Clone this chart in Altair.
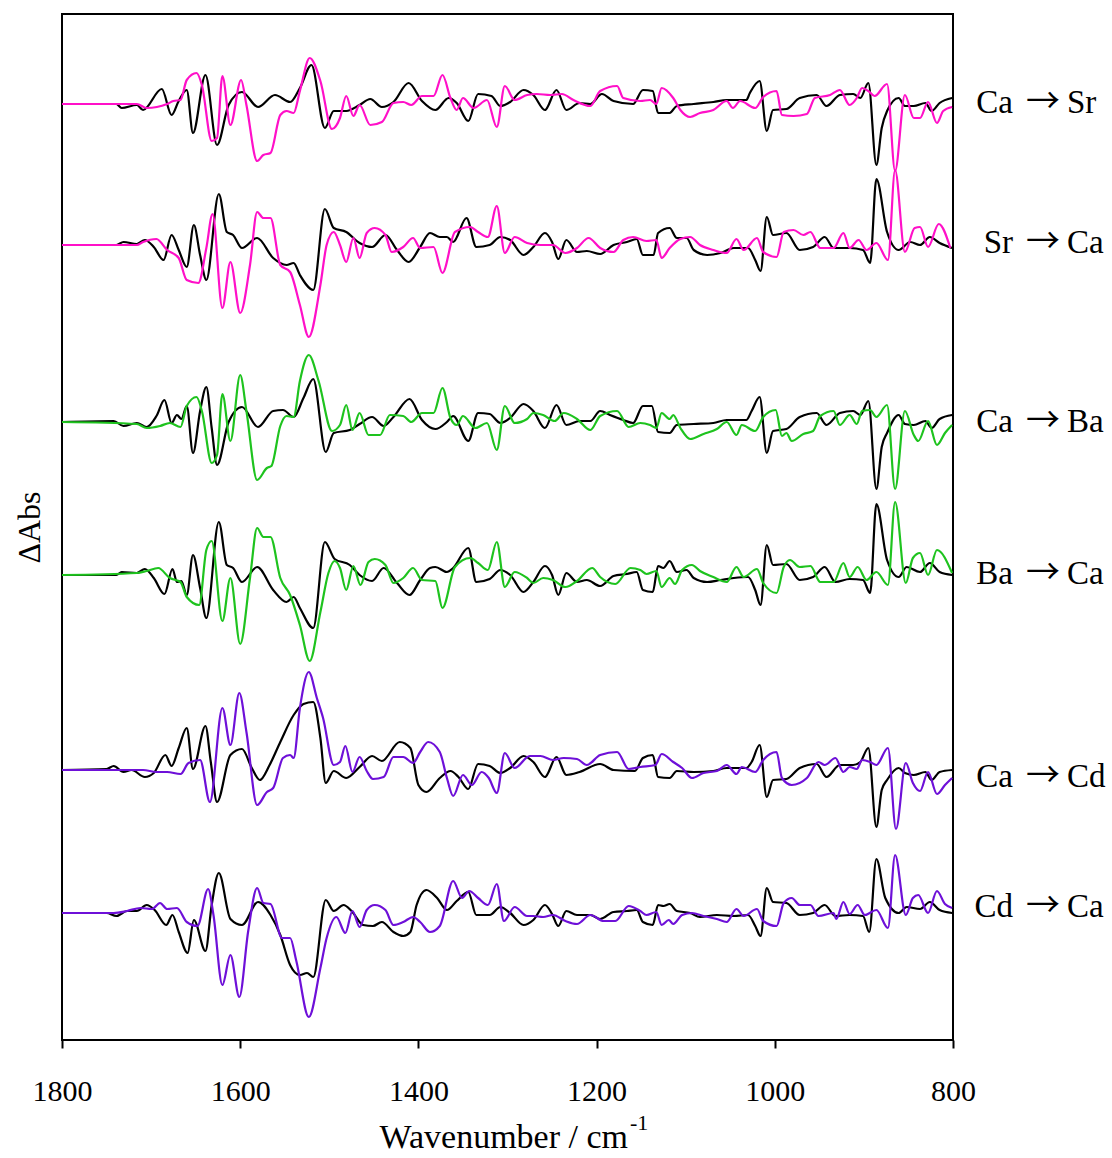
import altair as alt
import pandas as pd

# ---------------- data (wavenumber / cm-1, relative ΔAbs in arbitrary units) ----------------
# Pair 1: Ca -> Sr
WN_K1 = [1800,1739,1733,1716,1709,1688,1677,1669,1660,1653,1639,1626,1613,1598,1580,1561,1544,1533,1520,1505,
         1495,1481,1466,1454,1441,1428,1411,1396,1381,1366,1357,1344,1333,1318,
         1308,1297,1282,1271,1258,1245,1234,1219,1207,1194,1181,1159,1148,1137,1131,1118,1110,1091,1069,1054,
         1032,1028,1017,1009,1002,987,972,953,942,927,912,904,895,886,880,874,861,854,844,831,824,815,801]
DA_K1 = [0,0,-4,-1,-6,15,-11,3,14,-29,29,-41,-1,12,-3,9,2,16,39,-24,
         -7,-7,-1,5,-3,2,21,3,-6,6,1,-17,10,8,
         -2,2,14,9,-6,14,-6,1,0,10,3,0,14,13,-9,-9,-2,0,2,4,
         4,11,23,-27,-6,-5,6,9,-2,9,10,6,21,-61,-24,-7,6,-2,-2,1,-7,1,6]
WN_C1 = [1800,1716,1705,1682,1675,1667,1660,1649,1643,1632,1626,1620,1611,1599,1593,1581,1574,1566,1555,1548,
         1540,1533,1522,1510,1497,1488,1481,1473,1466,1454,1441,1428,1417,1408,1396,1383,1373,1364,1357,1350,
         1338,1323,1312,
         1303,1292,1278,1267,1252,1239,1226,1207,1196,1177,1170,1151,1140,1133,1127,1114,1106,1095,1084,1069,
         1054,1047,1039,1022,1013,998,992,979,964,955,938,927,916,908,902,895,888,874,865,854,
         844,837,828,818,811,801]
DA_C1 = [0,0,-4,0,3,4,24,31,19,-37,-34,28,-21,24,-1,-57,-51,-49,-11,-7,
         -9,13,46,23,-25,-14,8,-12,-1,-21,-18,1,2,-1,8,8,29,6,-6,6,
         -4,4,-23,
         18,4,9,10,9,10,4,-2,13,18,6,3,4,0,16,6,-6,-13,-9,-6,
         3,-4,3,-4,7,13,-11,-12,-10,6,9,14,-1,6,16,13,8,20,-67,9,
         -14,-14,2,-19,-7,-3]

# Pair 2: Sr -> Ca
WN_K2 = [1800,1739,1731,1716,1707,1697,1686,1677,1669,1660,1652,1645,1638,1624,1615,1608,1598,1581,1563,1548,
         1540,1533,1518,1505,1495,1481,1466,1452,1437,1424,1411,1398,1387,1376,1368,1361,1346,1335,1320,
         1308,1297,1282,1271,1258,1250,1243,1234,1222,1211,1196,1181,1166,1155,1148,1136,1131,1118,1110,1099,
         1091,1076,1061,1046,1030,1022,1016,1009,1002,987,972,957,944,934,916,901,893,886,874,861,
         848,837,826,815,801]
DA_K2 = [0,0,3,1,5,-2,-15,10,-5,-22,20,-10,-35,51,13,10,-3,7,-13,-20,
         -18,-30,-45,36,17,13,2,-2,10,-5,-17,-2,12,8,8,3,27,-2,0,
         8,5,-10,-2,12,3,-14,5,-7,-6,-9,0,3,6,-10,-10,12,17,7,7,
         -5,-10,-8,-3,-3,-15,-26,28,10,12,-5,-2,8,-3,-3,-5,-18,66,13,-5,
         3,0,8,2,-3]
WN_C2 = [1800,1716,1709,1694,1682,1669,1660,1647,1638,1631,1620,1611,1600,1589,1581,1574,1566,1555,1544,1533,
         1523,1510,1503,1495,1488,1481,1473,1466,1458,1449,1437,1430,1417,1406,1398,1383,1373,1359,1342,1333,
         1322,1312,
         1303,1292,1278,1263,1249,1235,1222,1209,1196,1181,1170,1159,1144,1133,1127,1118,1106,1095,1084,1069,
         1054,1043,1035,1020,1013,998,990,979,968,960,949,934,923,916,906,897,886,873,865,854,
         843,837,828,816,803]
DA_C2 = [0,0,3,6,-5,-13,-35,-38,-3,31,-63,-17,-68,-20,33,27,27,-20,-27,-60,
         -92,-40,0,13,0,-17,7,-13,12,17,10,-7,-2,7,-3,-2,-28,13,18,13,
         8,39,
         -8,8,2,0,0,-8,-3,7,-3,-7,5,8,4,5,-13,-3,6,8,0,-5,
         -8,6,-5,7,-7,-12,13,15,10,13,-3,-3,12,-3,5,-5,2,-15,75,-7,
         17,18,-2,21,-3]

# Pair 3: Ca -> Ba
WN_K3 = [1800,1742,1731,1716,1705,1694,1685,1677,1671,1666,1660,1653,1645,1638,1632,1626,1613,1598,1580,1563,
         1552,1540,1529,1518,1504,1495,1477,1466,1452,1439,1428,1410,1396,1381,1368,1361,1344,1333,1320,
         1308,1297,1282,1271,1258,1245,1234,1219,1207,1196,1185,1170,1159,1148,1138,1131,1118,1110,1091,1069,
         1054,1032,1026,1017,1009,1002,987,972,953,942,927,912,904,895,886,880,874,861,854,844,
         831,824,815,801]
DA_K3 = [0,1,-4,-1,-5,6,22,-1,7,3,16,-31,11,35,-6,-43,0,15,-5,11,
         12,5,24,43,-30,-11,-8,-2,5,-4,5,23,2,-7,0,6,-19,9,8,
         -1,4,18,11,-6,17,-3,1,1,11,7,2,-1,16,16,-10,-11,-3,-2,-1,
         2,2,11,25,-31,-9,-7,5,9,-3,9,11,7,21,-67,-25,-11,7,-2,-3,
         1,-6,3,7]
WN_C3 = [1800,1716,1705,1690,1679,1667,1660,1649,1643,1632,1626,1620,1611,1600,1593,1581,1570,1565,1555,1548,
         1540,1533,1523,1512,1497,1488,1481,1474,1466,1456,1443,1432,1417,1408,1396,1383,1373,1364,1357,1350,
         1336,1323,1312,
         1303,1292,1278,1271,1260,1247,1237,1222,1207,1196,1177,1164,1151,1140,1133,1127,1118,1114,1106,1095,
         1080,1065,1054,1043,1037,1022,1013,999,992,987,981,968,957,949,934,927,916,908,902,893,
         886,874,865,854,844,839,828,818,809,801]
DA_C3 = [0,-2,-6,-4,-1,-5,16,25,11,-41,-33,28,-19,47,11,-58,-46,-44,-4,6,
         5,41,67,41,-9,-3,17,-8,9,-13,-13,7,6,0,9,9,34,4,-3,6,
         -6,-1,-28,
         16,-1,3,9,7,1,9,3,-8,6,11,-5,-1,-3,-6,9,3,7,-6,-17,
         -12,-7,0,-13,-3,-9,5,12,-14,-11,-19,-12,-9,6,11,-3,7,-2,11,12,
         5,17,-67,11,-13,-19,1,-23,-11,-3]

# Pair 4: Ba -> Ca
WN_K4 = [1800,1739,1733,1716,1707,1697,1685,1676,1671,1666,1660,1653,1645,1638,1624,1615,1608,1598,1581,1563,
         1548,1540,1533,1518,1505,1494,1477,1466,1452,1439,1424,1410,1398,1387,1381,1368,1361,1344,1335,1320,
         1308,1297,1282,1271,1258,1250,1243,1234,1222,1211,1196,1181,1166,1155,1148,1137,1131,1125,1118,1110,
         1099,1091,1076,1061,1046,1030,1022,1016,1009,1002,987,972,957,944,932,916,901,893,886,874,
         861,852,837,826,815,801]
DA_K4 = [0,0,3,2,6,-3,-19,6,-7,-6,-20,20,-13,-43,53,10,7,-7,8,-15,
         -27,-22,-33,-53,33,16,10,0,-6,7,-8,-20,-5,7,8,3,7,27,-7,-4,
         5,0,-17,-7,9,0,-20,2,-7,-5,-11,-1,1,3,-15,-17,9,7,14,3,
         5,-3,-7,-5,-3,-2,-15,-30,30,10,11,-5,-2,8,-7,-4,-5,-18,71,15,
         -2,8,3,12,3,0]
WN_C4 = [1800,1716,1705,1692,1679,1667,1660,1646,1638,1632,1620,1611,1600,1589,1581,1574,1566,1555,1544,1533,
         1522,1510,1501,1494,1488,1481,1473,1465,1456,1449,1437,1428,1417,1406,1396,1381,1373,1359,1342,1333,
         1322,1312,
         1303,1292,1278,1271,1260,1249,1235,1222,1205,1196,1179,1162,1151,1144,1133,1127,1118,1112,1104,1093,
         1084,1069,1054,1043,1035,1020,1013,998,990,983,972,960,949,934,923,916,907,897,886,873,
         865,853,845,837,828,818,801]
DA_C4 = [0,2,4,7,-3,-7,-22,-30,25,34,-46,-3,-69,-3,47,38,38,-3,-20,-50,
         -86,-37,2,14,7,-15,9,-10,13,16,10,-8,-3,7,-5,-6,-33,8,17,12,
         5,33,
         -12,3,-3,-8,-3,-5,-12,-6,7,-2,-9,7,5,1,4,-12,-3,-9,5,10,
         4,-2,-7,8,-2,6,-8,-18,8,15,8,9,-7,-7,12,-2,8,-5,3,-10,
         73,-8,17,22,0,25,2]

# Pair 5: Ca -> Cd
WN_K5 = [1800,1750,1742,1731,1722,1707,1697,1684,1677,1669,1660,1653,1639,1633,1626,1611,1598,1587,1578,1567,
         1555,1540,1529,1518,1510,1504,1495,1481,1466,1452,1441,1421,1409,1400,1391,1376,1364,1355,1344,1333,
         1320,
         1308,1297,1282,1271,1258,1245,1234,1219,1196,1181,1157,1148,1137,1131,1118,1110,1091,1069,1054,1032,
         1026,1017,1009,1002,987,972,953,942,927,912,904,895,886,880,874,861,854,844,831,824,
         815,801]
DA_K5 = [0,1,4,-2,0,-7,-3,15,4,22,42,1,44,8,-32,15,21,2,-10,5,
         28,55,66,68,32,-13,-1,-8,3,14,9,28,22,-15,-22,-8,-1,-7,-19,6,
         4,
         -3,2,14,8,-7,13,-5,-2,6,0,-1,12,15,-7,-8,-1,-2,-1,2,2,
         8,25,-27,-10,-9,2,6,-7,5,5,8,22,-57,-20,-10,2,-3,-5,-2,-10,
         -2,0]
WN_C5 = [1800,1709,1694,1682,1667,1658,1645,1634,1620,1611,1601,1593,1581,1570,1563,1552,1544,1540,1533,1523,
         1514,1507,1495,1488,1482,1474,1466,1458,1451,1439,1428,1417,1406,1398,1389,1376,1368,1361,1350,1340,
         1329,1321,1312,
         1303,1292,1275,1263,1249,1237,1222,1211,1196,1177,1164,1151,1134,1127,1114,1104,1093,1080,1065,1054,
         1043,1037,1022,1013,998,992,981,964,951,944,932,923,916,908,902,893,886,873,864,853,
         845,837,828,818,809,801]
DA_C5 = [0,0,-2,-2,-4,7,10,-32,62,25,77,38,-35,-22,-18,12,15,12,62,98,
         72,52,5,8,24,-2,13,-1,-9,-7,13,13,7,18,28,18,-8,-26,-5,-15,
         -2,-8,-23,
         17,2,14,14,10,12,11,5,15,18,1,3,5,16,8,2,-8,-3,-1,5,
         -4,3,-2,10,18,-8,-15,-8,8,5,12,-2,3,1,10,8,5,22,-59,7,
         -13,-21,-2,-24,-15,-8]

# Pair 6: Cd -> Ca
WN_K6 = [1800,1750,1739,1727,1716,1705,1696,1683,1676,1669,1659,1652,1639,1632,1624,1611,1598,1580,1566,1555,
         1544,1533,1525,1518,1504,1495,1484,1475,1462,1451,1441,1428,1417,1409,1402,1391,1379,1368,1357,1344,
         1335,1320,
         1308,1297,1282,1271,1258,1250,1243,1234,1222,1207,1196,1181,1166,1155,1148,1137,1131,1125,1118,1110,
         1095,1084,1065,1046,1030,1022,1016,1009,1002,987,972,957,944,932,916,901,894,886,876,861,
         852,837,826,815,801]
DA_K6 = [0,0,-3,2,2,8,3,-12,-2,-19,-40,-7,-38,8,40,-6,-12,11,-2,-22,
         -52,-62,-60,-64,13,2,8,2,-12,-13,-9,-19,-23,-19,8,23,15,3,12,21,
         -2,-2,
         6,0,-12,-7,8,-1,-13,2,-2,-2,-6,1,2,3,-9,-12,8,7,9,2,
         0,-4,-2,-3,-2,-13,-23,25,11,10,-2,0,8,-3,-2,-3,-19,54,15,0,
         6,4,11,3,0]
WN_C6 = [1800,1742,1727,1712,1699,1690,1682,1671,1660,1648,1636,1630,1620,1611,1601,1591,1581,1574,1566,1553,
         1544,1537,1523,1510,1503,1492,1482,1474,1466,1458,1449,1437,1428,1417,1406,1398,1387,1376,1361,1351,
         1343,1333,1322,1312,
         1304,1292,1278,1271,1260,1249,1235,1222,1207,1192,1179,1164,1151,1144,1133,1127,1119,1114,1104,1093,
         1080,1065,1054,1043,1035,1020,1013,998,990,981,972,960,951,934,931,923,916,907,899,886,
         873,865,853,845,839,828,818,809,801]
DA_C6 = [0,0,2,5,4,10,4,5,-9,-13,24,-2,-72,-42,-84,-18,25,10,9,-25,
         -25,-48,-104,-55,-25,-4,-20,2,-14,3,8,3,-12,-9,-4,-9,-19,-13,32,15,
         22,15,8,29,
         -8,6,-3,-3,-4,-2,-8,-11,-2,-8,-8,7,2,-2,1,-12,-7,-11,-2,0,
         -3,-6,-9,4,-3,4,-8,-13,10,15,8,8,-3,0,-6,11,-1,8,-2,3,
         -15,58,-2,15,18,0,22,9,5]

PAIR_FROM = ["Ca", "Sr", "Ca", "Ba", "Ca", "Cd"]
PAIR_TO = ["Sr", "Ca", "Ba", "Ca", "Cd", "Ca"]
PAIR_OFFSETS = [936, 795, 618, 465, 270, 127]
LABEL_Y = [937, 797, 618, 466, 263, 133]
PAIR_PENS = ["magenta", "magenta", "green", "green", "purple", "purple"]

BLACK = [(WN_K1, DA_K1), (WN_K2, DA_K2), (WN_K3, DA_K3), (WN_K4, DA_K4), (WN_K5, DA_K5), (WN_K6, DA_K6)]
COLOURED = [(WN_C1, DA_C1), (WN_C2, DA_C2), (WN_C3, DA_C3), (WN_C4, DA_C4), (WN_C5, DA_C5), (WN_C6, DA_C6)]

PEN_DOMAIN = ["black", "magenta", "green", "purple"]
PEN_RANGE = ["#000000", "#FF10C8", "#1EC31E", "#6E10D8"]

rows_k, rows_c = [], []
for i in range(6):
    wk, dk = BLACK[i]
    wc, dc = COLOURED[i]
    assert len(wk) == len(dk), ("black", i, len(wk), len(dk))
    assert len(wc) == len(dc), ("colour", i, len(wc), len(dc))
    for w, d in zip(wk, dk):
        rows_k.append({"trace": f"k{i}", "pen": "black", "wn": w, "y": PAIR_OFFSETS[i] + d})
    for w, d in zip(wc, dc):
        rows_c.append({"trace": f"c{i}", "pen": PAIR_PENS[i], "wn": w, "y": PAIR_OFFSETS[i] + d})

df_k = pd.DataFrame(rows_k)
df_c = pd.DataFrame(rows_c)
df_lab = pd.DataFrame({"src": PAIR_FROM, "dst": PAIR_TO, "arrow": ["→"] * 6, "y": LABEL_Y})

FONT = "Liberation Serif"
W, H = 891, 1026

xscale = alt.Scale(domain=[800, 1800], reverse=True, nice=False, zero=False)
yscale = alt.Scale(domain=[0, 1026], nice=False, zero=False)

x_enc = alt.X("wn:Q", scale=xscale,
              axis=alt.Axis(values=[1800, 1600, 1400, 1200, 1000, 800], format="d", title=None,
                            grid=False, labelFont=FONT, labelFontSize=30, labelColor="black",
                            labelPadding=28, tickSize=8, tickWidth=2, tickColor="black",
                            domain=False, labelFlush=False))
y_enc = alt.Y("y:Q", scale=yscale,
              axis=alt.Axis(title="ΔAbs", labels=False, ticks=False, domain=False, grid=False,
                            titleFont=FONT, titleFontSize=32, titleFontWeight="normal",
                            titleColor="black", titlePadding=16))
color_enc = alt.Color("pen:N", scale=alt.Scale(domain=PEN_DOMAIN, range=PEN_RANGE), legend=None)

black_lines = alt.Chart(df_k).mark_line(strokeWidth=2.2, interpolate="monotone").encode(
    x=x_enc, y=y_enc, detail="trace:N", color=color_enc,
    order=alt.Order("wn:Q", sort="descending"))
colour_lines = alt.Chart(df_c).mark_line(strokeWidth=2.2, interpolate="monotone").encode(
    x=x_enc, y=y_enc, detail="trace:N", color=color_enc,
    order=alt.Order("wn:Q", sort="descending"))

lab_base = alt.Chart(df_lab)
lab_src = lab_base.mark_text(font=FONT, fontSize=33, align="right", baseline="middle",
                             color="black").encode(
    x=alt.value(W + 60), y=alt.Y("y:Q", scale=yscale), text="src:N")
lab_arrow = lab_base.mark_text(font="Noto Sans CJK JP", fontSize=34, align="center", baseline="middle",
                               color="black").encode(
    x=alt.value(W + 90), y=alt.Y("y:Q", scale=yscale), text="arrow:N")
lab_dst = lab_base.mark_text(font=FONT, fontSize=33, align="left", baseline="middle",
                             color="black").encode(
    x=alt.value(W + 114), y=alt.Y("y:Q", scale=yscale), text="dst:N")

xtitle = alt.Chart(pd.DataFrame({"t": ["Wavenumber / cm"]})).mark_text(
    font=FONT, fontSize=34, align="right", baseline="middle", color="black").encode(
    x=alt.value(566), y=alt.value(H + 98), text="t:N")
xsup = alt.Chart(pd.DataFrame({"t": ["-1"]})).mark_text(
    font=FONT, fontSize=22, align="left", baseline="middle", color="black").encode(
    x=alt.value(568), y=alt.value(H + 83), text="t:N")

chart = alt.layer(black_lines, colour_lines, lab_src, lab_arrow, lab_dst, xtitle, xsup).properties(
    width=W, height=H,
    padding={"left": 62, "top": 14, "right": 1112 - 62 - W, "bottom": 1158 - 14 - H},
    autosize=alt.AutoSizeParams(type="none"),
    background="white",
).configure_view(stroke="black", strokeWidth=2)

chart.save("out.html", embed_options={"renderer": "svg", "actions": False})
